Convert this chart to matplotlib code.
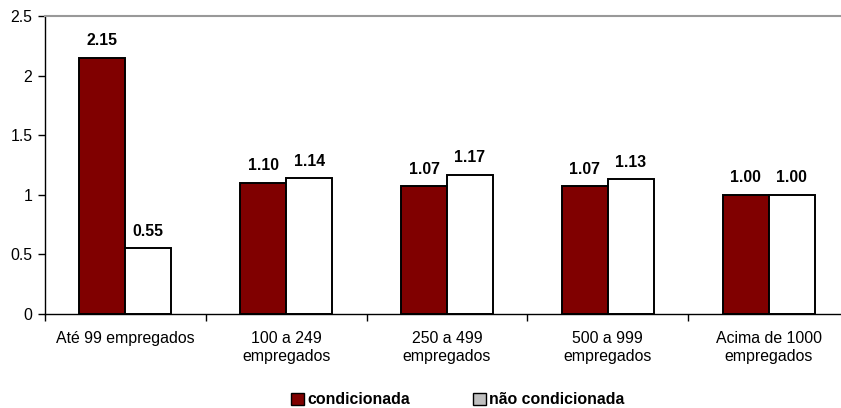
import numpy as np
import matplotlib
matplotlib.use('Agg')
import matplotlib.pyplot as plt
from matplotlib.patches import Patch

# ── Data ─────────────────────────────────────────────────────────────────────
categories = ["Até 99 empregados", "100 a 249\nempregados", "250 a 499\nempregados",
              "500 a 999\nempregados", "Acima de 1000\nempregados"]
condicionada = [2.15, 1.10, 1.07, 1.07, 1.00]
nao_condicionada = [0.55, 1.14, 1.17, 1.13, 1.00]

plt.rcParams['font.family'] = ['Liberation Sans', 'DejaVu Sans']
FS = 11.4

fig = plt.figure(figsize=(8.41, 4.08), dpi=100)
ax = fig.add_axes([45 / 841, 1 - 314 / 408, 804 / 841, 298 / 408])

x = np.arange(len(categories))
w = 1 / 3.5
b1 = ax.bar(x - w / 2, condicionada, w, color='#800000', edgecolor='black', linewidth=1.4)
b2 = ax.bar(x + w / 2, nao_condicionada, w, color='white', edgecolor='black', linewidth=1.4)

for bars, vals in ((b1, condicionada), (b2, nao_condicionada)):
    for r, v in zip(bars, vals):
        ax.text(r.get_x() + r.get_width() / 2, v + 0.08, f"{v:.2f}",
                ha='center', va='bottom', fontsize=FS, fontweight='bold')

ax.set_xlim(-0.5, len(categories) - 0.5)
ax.set_ylim(0, 2.5)
ax.set_yticks([0, 0.5, 1, 1.5, 2, 2.5])
ax.set_yticklabels(["0", "0.5", "1", "1.5", "2", "2.5"], fontsize=FS)
ax.set_xticks(x)
ax.set_xticklabels(categories, fontsize=FS, linespacing=1.3)
ax.set_xticks(np.arange(len(categories) + 1) - 0.5, minor=True)
ax.tick_params(axis='x', which='major', length=0, pad=12)
ax.tick_params(axis='x', which='minor', length=5, direction='out', width=1)
ax.tick_params(axis='y', length=5, direction='out', width=1, pad=4)

ax.spines['right'].set_visible(False)
ax.spines['top'].set_color('#999999')
ax.spines['top'].set_linewidth(1.5)
for s in ('left', 'bottom'):
    ax.spines[s].set_color('black')
    ax.spines[s].set_linewidth(1)

handles = [Patch(facecolor='#800000', edgecolor='black', label='condicionada'),
           Patch(facecolor='#c0c0c0', edgecolor='black', label='não condicionada')]
fig.legend(handles=handles, loc='center', bbox_to_anchor=(458 / 841, 1 - 400 / 408),
           ncol=2, frameon=False, prop={'weight': 'bold', 'size': FS},
           handlelength=0.8, handleheight=0.8, handletextpad=0.2, columnspacing=4.0)

fig.savefig("out.png", dpi=100)
